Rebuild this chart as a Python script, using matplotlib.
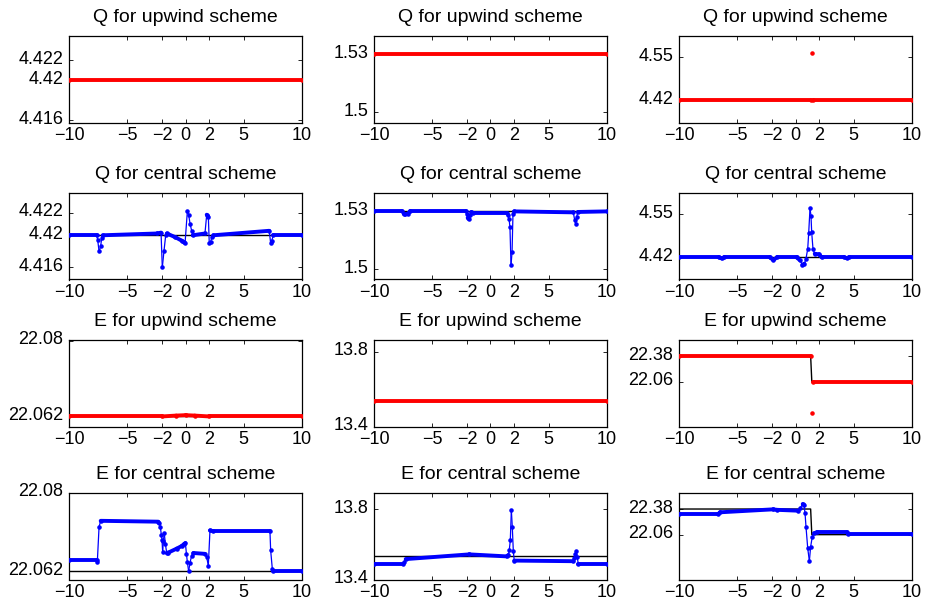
import numpy as np
import matplotlib.pyplot as plt
from matplotlib.collections import LineCollection
from matplotlib.transforms import ScaledTranslation

plt.rcParams['font.family'] = ['Liberation Sans', 'DejaVu Sans']

x_ticks = [-10, -5, -2, 0, 2, 5, 10]

# exact solutions (black reference lines)
q_exact_1 = ([-10, 10], [4.42, 4.42])
q_exact_2 = ([-10, 10], [1.53, 1.53])
q_exact_3 = ([-10, 10], [4.42, 4.42])
e_exact_1 = ([-10, 10], [22.062, 22.062])
e_exact_2 = ([-10, 10], [13.535, 13.535])
e_exact_3 = ([-10, 1.3, 1.4, 10], [22.38, 22.38, 22.06, 22.06])

# upwind scheme results
q_up_1 = ([-10, 10], [4.42, 4.42])
q_up_2 = ([-10, 10], [1.53, 1.53])
q_up_3 = ([-10, 1.3, 1.4, 1.5, 10], [4.42, 4.42, 4.561, 4.42, 4.42])
e_up_1 = ([-10, -2, -0.8, 0, 0.8, 2, 10],
          [22.062, 22.062, 22.0622, 22.0623, 22.0622, 22.062, 22.062])
e_up_2 = ([-10, 10], [13.535, 13.535])
e_up_3 = ([-10, 1.3, 1.4, 1.5, 10], [22.38, 22.38, 21.67, 22.06, 22.06])

# central scheme results
q_ce_1 = ([-10, -7.63, -7.54, -7.42, -7.28, -7.19, -7.11, -2.42, -2.10, -1.99,
           -1.85, -1.70, -1.61, -0.90, -0.33, -0.10, -0.04, 0.16, 0.27, 0.39,
           0.53, 0.62, 1.67, 1.82, 1.96, 2.04, 2.16, 2.27, 2.39, 7.19, 7.31,
           7.40, 7.54, 10],
          [4.42, 4.42, 4.4195, 4.4182, 4.4188, 4.4197, 4.42, 4.4202, 4.4203, 4.4164,
           4.4182, 4.42, 4.4202, 4.4198, 4.4194, 4.4192, 4.4191, 4.4227, 4.4223, 4.4213,
           4.4205, 4.42, 4.4202, 4.4223, 4.4221, 4.4191, 4.4193, 4.4198, 4.42, 4.4205, 4.4191,
           4.4194, 4.42, 4.42])
q_ce_2 = ([-10, -7.6, -7.45, -7.3, -7.1, -6.9, -2.1, -2.04, -1.96, -1.85, -1.76,
           -1.64, -1.5, 1.4, 1.47, 1.59, 1.67, 1.76, 1.85, 1.93, 2.02, 7.11, 7.23,
           7.31, 7.40, 7.49, 10],
          [1.53, 1.53, 1.5287, 1.5285, 1.5288, 1.53, 1.53, 1.5288, 1.5267, 1.5262, 1.5279,
           1.5297, 1.5293, 1.5293, 1.5279, 1.5262, 1.5219, 1.5021, 1.5090, 1.5288, 1.53,
           1.5295, 1.5253, 1.5236, 1.5271, 1.5297, 1.53])
q_ce_3 = ([-10, -6.6, -6.34, -6.1, -2.2, -1.9, -1.6, 0.1, 0.39, 0.59, 0.76, 0.90,
           1.05, 1.13, 1.245, 1.33, 1.39, 1.50, 1.65, 2.02, 2.25, 4.2, 4.4, 4.6, 10],
          [4.42, 4.42, 4.417, 4.42, 4.42, 4.412, 4.42, 4.42, 4.411, 4.398, 4.401, 4.416,
           4.446, 4.492, 4.567, 4.545, 4.495, 4.446, 4.431, 4.429, 4.42, 4.42, 4.418,
           4.42, 4.42])
e_ce_1 = ([-10, -7.63, -7.57, -7.42, -7.28, -2.33, -2.25, -2.16, -2.07, -2.02, -1.96,
           -1.90, -1.82, -1.73, -1.61, -1.47, -0.76, -0.33, -0.10, -0.01, 0.08, 0.16,
           0.27, 0.39, 0.53, 0.67, 1.67, 1.82, 1.96, 2.10, 2.39, 7.25, 7.31, 7.45,
           7.54, 10],
          [22.0646, 22.0646, 22.0641, 22.0722, 22.0736, 22.0734, 22.0730, 22.0722,
           22.0703, 22.0693, 22.0664, 22.0690, 22.0707, 22.0683, 22.0662, 22.0663,
           22.0672, 22.0678, 22.0683, 22.0685, 22.0660, 22.0641, 22.0620, 22.0640,
           22.0656, 22.0662, 22.0660, 22.0652, 22.0633, 22.0714, 22.0712, 22.0712,
           22.0668, 22.0626, 22.0620, 22.0620])
e_ce_2 = ([-10, -7.48, -7.40, -7.28, -1.82, 1.39, 1.53, 1.61, 1.70, 1.79, 1.87, 1.96,
           2.04, 7.11, 7.19, 7.28, 7.34, 7.43, 7.54, 10],
          [13.490, 13.490, 13.500, 13.5165, 13.5435, 13.532, 13.540, 13.5665, 13.624,
           13.796, 13.700, 13.560, 13.508, 13.5045, 13.520, 13.5435, 13.562, 13.530,
           13.490, 13.490])
e_ce_3 = ([-10, -6.63, -6.48, -1.91, -1.61, 0.24, 0.39, 0.62, 0.73, 0.82, 0.90, 1.05,
           1.19, 1.30, 1.44, 1.59, 1.82, 4.40, 4.48, 10],
          [22.318, 22.318, 22.339, 22.376, 22.37, 22.359, 22.389, 22.443, 22.43, 22.326,
           22.159, 21.889, 21.731, 21.909, 22.034, 22.077, 22.089, 22.089, 22.064, 22.064])

# y axis setup per column: (limits, tick positions, tick labels)
q_axes_up = [((4.4158, 4.4244), [4.416, 4.42, 4.422], ['4.416', '4.42', '4.422']),
             ((1.4948, 1.5395), [1.5, 1.53], ['1.5', '1.53']),
             ((4.3535, 4.6135), [4.42, 4.55], ['4.42', '4.55'])]
q_axes_ce = [((4.41505, 4.42473), [4.4164, 4.42, 4.4225], ['4.416', '4.42', '4.422']),
             ((1.4948, 1.5395), [1.5, 1.53], ['1.5', '1.53']),
             ((4.3535, 4.6135), [4.42, 4.55], ['4.42', '4.55'])]
e_axes_up = [((22.0596, 22.0802), [22.062, 22.08], ['22.062', '22.08']),
             ((13.4, 13.864), [13.4, 13.8], ['13.4', '13.8']),
             ((21.5, 22.58), [22.06, 22.38], ['22.06', '22.38'])]
e_axes_ce = [((22.0601, 22.08), [22.062, 22.08], ['22.062', '22.08']),
             ((13.4, 13.894), [13.4, 13.8], ['13.4', '13.8']),
             ((21.5, 22.58), [22.06, 22.38], ['22.06', '22.38'])]

rows = [
    ('Q for upwind scheme', 'red', [q_up_1, q_up_2, q_up_3], [q_exact_1, q_exact_2, q_exact_3], q_axes_up),
    ('Q for central scheme', 'blue', [q_ce_1, q_ce_2, q_ce_3], [q_exact_1, q_exact_2, q_exact_3], q_axes_ce),
    ('E for upwind scheme', 'red', [e_up_1, e_up_2, e_up_3], [e_exact_1, e_exact_2, e_exact_3], e_axes_up),
    ('E for central scheme', 'blue', [e_ce_1, e_ce_2, e_ce_3], [e_exact_1, e_exact_2, e_exact_3], e_axes_ce),
]


def draw_profile(ax, x, y, color, steep_lw):
    # flat stretches look heavy (dense overlapping dots), steep jumps thin
    x = np.asarray(x, float)
    y = np.asarray(y, float)
    pts = np.column_stack([x, y])
    pix = ax.transData.transform(pts)
    step = np.diff(pix, axis=0)
    steep = np.abs(step[:, 1]) > 1.2 * np.abs(step[:, 0])
    segs = np.stack([pts[:-1], pts[1:]], axis=1)
    ax.add_collection(LineCollection(segs[~steep], colors=color, linewidths=2.8,
                                     capstyle='round', joinstyle='round', zorder=3))
    if steep_lw:
        ax.add_collection(LineCollection(segs[steep], colors=color,
                                         linewidths=steep_lw, zorder=3))
    ax.plot(x, y, '.', color=color, ms=4.5, zorder=4)


W, H = 928, 603
lefts = [69, 374, 679]
tops = [36, 193, 340, 493]
aw, ah = 233, 86.5

fig = plt.figure(figsize=(W / 100, H / 100), dpi=100)
lift = ScaledTranslation(0, 3 / 100, fig.dpi_scale_trans)

for r, (title, color, series, exacts, yaxes) in enumerate(rows):
    for c in range(3):
        ax = fig.add_axes([lefts[c] / W, 1 - (tops[r] + ah) / H, aw / W, ah / H])
        ylim, yt, ylab = yaxes[c]
        ax.set_xlim(-10, 10)
        ax.set_ylim(*ylim)
        ax.set_xticks(x_ticks)
        ax.set_yticks(yt)
        ax.set_yticklabels(ylab)
        ax.tick_params(direction='in', top=True, right=True, length=3, width=0.6,
                       labelsize=13)
        ax.tick_params(axis='x', pad=3)
        ax.tick_params(axis='y', pad=4)
        # y labels sit a little above their ticks
        for lbl in ax.get_yticklabels():
            lbl.set_transform(lbl.get_transform() + lift)
        for sp in ax.spines.values():
            sp.set_linewidth(0.9)
        ex, ey = exacts[c]
        ax.plot(ex, ey, color='black', lw=1.0, zorder=2)
        sx, sy = series[c]
        draw_profile(ax, sx, sy, color, 0.9 if color == 'blue' else 0)
        ax.set_title(title, fontsize=14, pad=10)

fig.savefig('out.png', dpi=100)
